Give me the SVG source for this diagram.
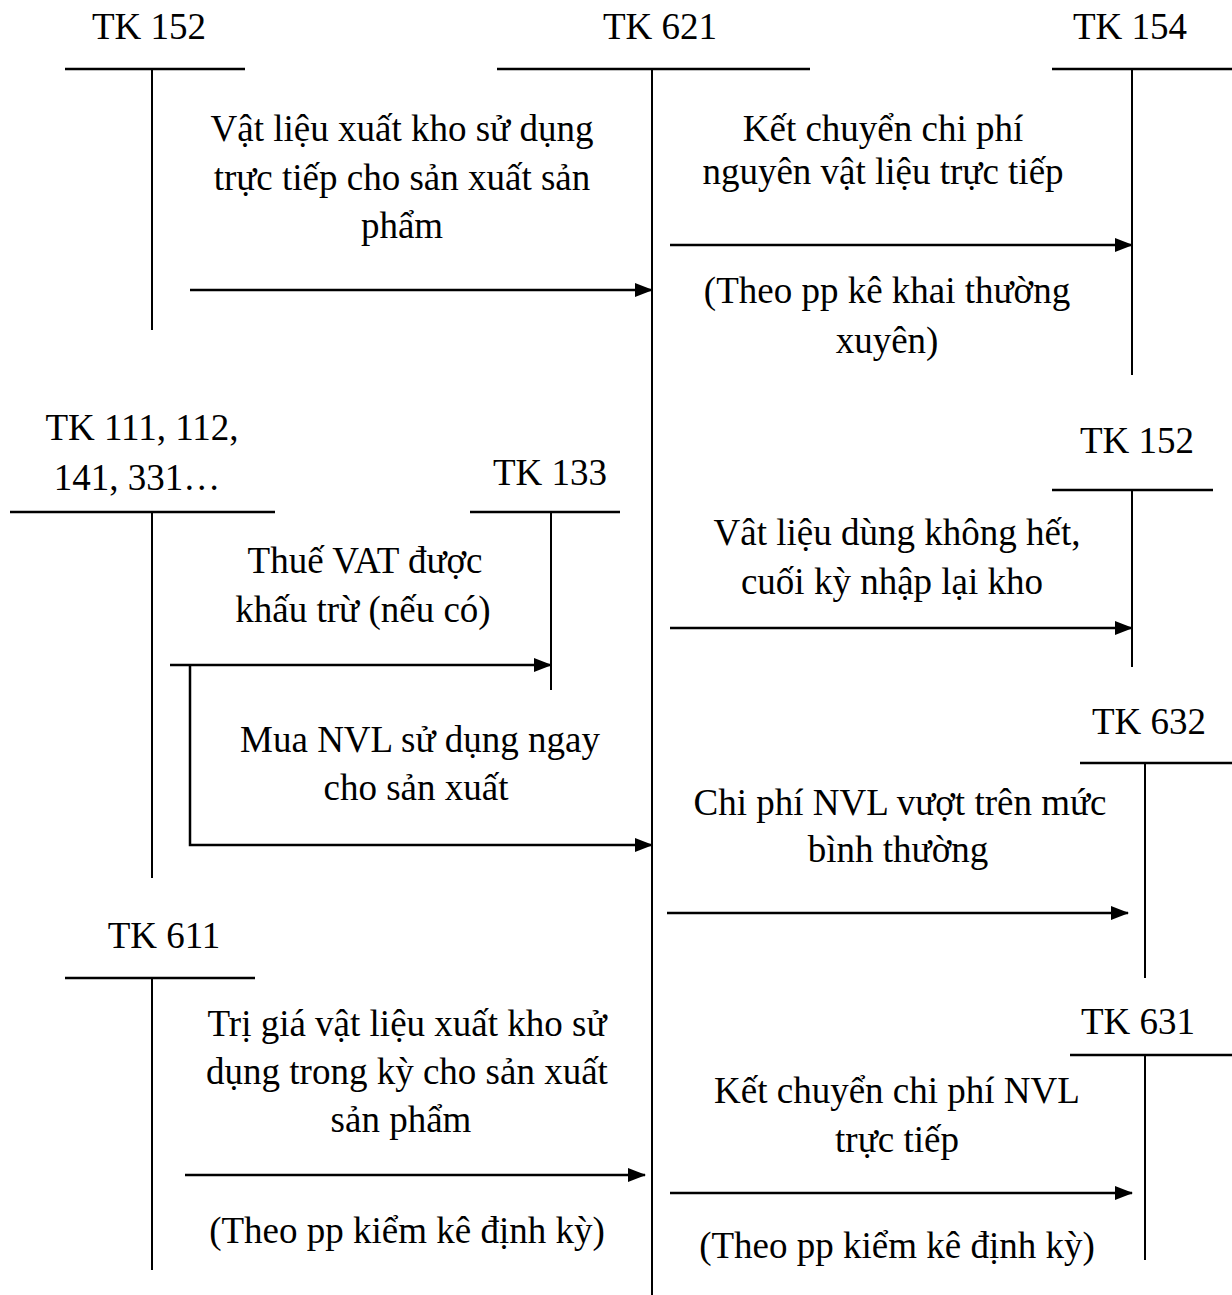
<svg xmlns="http://www.w3.org/2000/svg" width="1232" height="1295" viewBox="0 0 1232 1295">
<style>
text{font-family:"Liberation Serif","Times New Roman",serif;font-size:37px;fill:#000;text-anchor:middle}
.h{stroke:#000;stroke-width:2.5;fill:none}
.v{stroke:#000;stroke-width:2;fill:none}
.a{stroke:#000;stroke-width:2.5;fill:none;marker-end:url(#ah)}
</style>
<defs>
<marker id="ah" markerUnits="userSpaceOnUse" markerWidth="18" markerHeight="14" refX="17" refY="7" orient="auto">
<path d="M0,0 L18,7 L0,14 z" fill="#000"/>
</marker>
</defs>
<rect width="1232" height="1295" fill="#fff"/>
<g id="tk152-top">
<text x="149" y="39">TK 152</text>
<line class="h" x1="65" y1="69" x2="245" y2="69"/>
<line class="v" x1="152" y1="69" x2="152" y2="330"/>
</g>
<g id="tk621">
<text x="660" y="39">TK 621</text>
<line class="h" x1="497" y1="69" x2="810" y2="69"/>
<line class="v" x1="652" y1="69" x2="652" y2="1295"/>
</g>
<g id="tk154">
<text x="1130" y="39">TK 154</text>
<line class="h" x1="1052" y1="69" x2="1232" y2="69"/>
<line class="v" x1="1132" y1="69" x2="1132" y2="375"/>
</g>
<g id="tk111">
<text x="142" y="440">TK 111, 112,</text>
<text x="137" y="490">141, 331…</text>
<line class="h" x1="10" y1="512" x2="275" y2="512"/>
<line class="v" x1="152" y1="512" x2="152" y2="878"/>
</g>
<g id="tk133">
<text x="550" y="485">TK 133</text>
<line class="h" x1="470" y1="512" x2="620" y2="512"/>
<line class="v" x1="551" y1="512" x2="551" y2="690"/>
</g>
<g id="tk152-right">
<text x="1137" y="453">TK 152</text>
<line class="h" x1="1052" y1="490" x2="1213" y2="490"/>
<line class="v" x1="1132" y1="490" x2="1132" y2="667"/>
</g>
<g id="tk632">
<text x="1149" y="734">TK 632</text>
<line class="h" x1="1080" y1="763" x2="1232" y2="763"/>
<line class="v" x1="1145" y1="763" x2="1145" y2="978"/>
</g>
<g id="tk611">
<text x="164" y="948">TK 611</text>
<line class="h" x1="65" y1="978" x2="255" y2="978"/>
<line class="v" x1="152" y1="978" x2="152" y2="1270"/>
</g>
<g id="tk631">
<text x="1138" y="1034">TK 631</text>
<line class="h" x1="1070" y1="1055" x2="1232" y2="1055"/>
<line class="v" x1="1145" y1="1055" x2="1145" y2="1260"/>
</g>
<g id="connectors">
<line class="a" x1="190" y1="290" x2="652" y2="290"/>
<line class="a" x1="670" y1="245" x2="1132" y2="245"/>
<line class="a" x1="170" y1="665" x2="551" y2="665"/>
<polyline class="a" points="190,665 190,845 652,845"/>
<line class="a" x1="670" y1="628" x2="1132" y2="628"/>
<line class="a" x1="667" y1="913" x2="1128" y2="913"/>
<line class="a" x1="185" y1="1175" x2="645" y2="1175"/>
<line class="a" x1="670" y1="1193" x2="1132" y2="1193"/>
</g>
<g id="labels">
<text x="402" y="141">Vật liệu xuất kho sử dụng</text>
<text x="402" y="190">trực tiếp cho sản xuất sản</text>
<text x="402" y="238">phẩm</text>
<text x="883" y="141">Kết chuyển chi phí</text>
<text x="883" y="184">nguyên vật liệu trực tiếp</text>
<text x="887" y="303">(Theo pp kê khai thường</text>
<text x="887" y="353">xuyên)</text>
<text x="365" y="573">Thuế VAT được</text>
<text x="363" y="622">khấu trừ (nếu có)</text>
<text x="420" y="752">Mua NVL sử dụng ngay</text>
<text x="416" y="800">cho sản xuất</text>
<text x="897" y="545">Vât liệu dùng không hết,</text>
<text x="892" y="594">cuối kỳ nhập lại kho</text>
<text x="900" y="815">Chi phí NVL vượt trên mức</text>
<text x="898" y="862">bình thường</text>
<text x="407" y="1036">Trị giá vật liệu xuất kho sử</text>
<text x="407" y="1084">dụng trong kỳ cho sản xuất</text>
<text x="401" y="1132">sản phẩm</text>
<text x="407" y="1243">(Theo pp kiểm kê định kỳ)</text>
<text x="897" y="1103">Kết chuyển chi phí NVL</text>
<text x="897" y="1152">trực tiếp</text>
<text x="897" y="1258">(Theo pp kiểm kê định kỳ)</text>
</g>
</svg>
